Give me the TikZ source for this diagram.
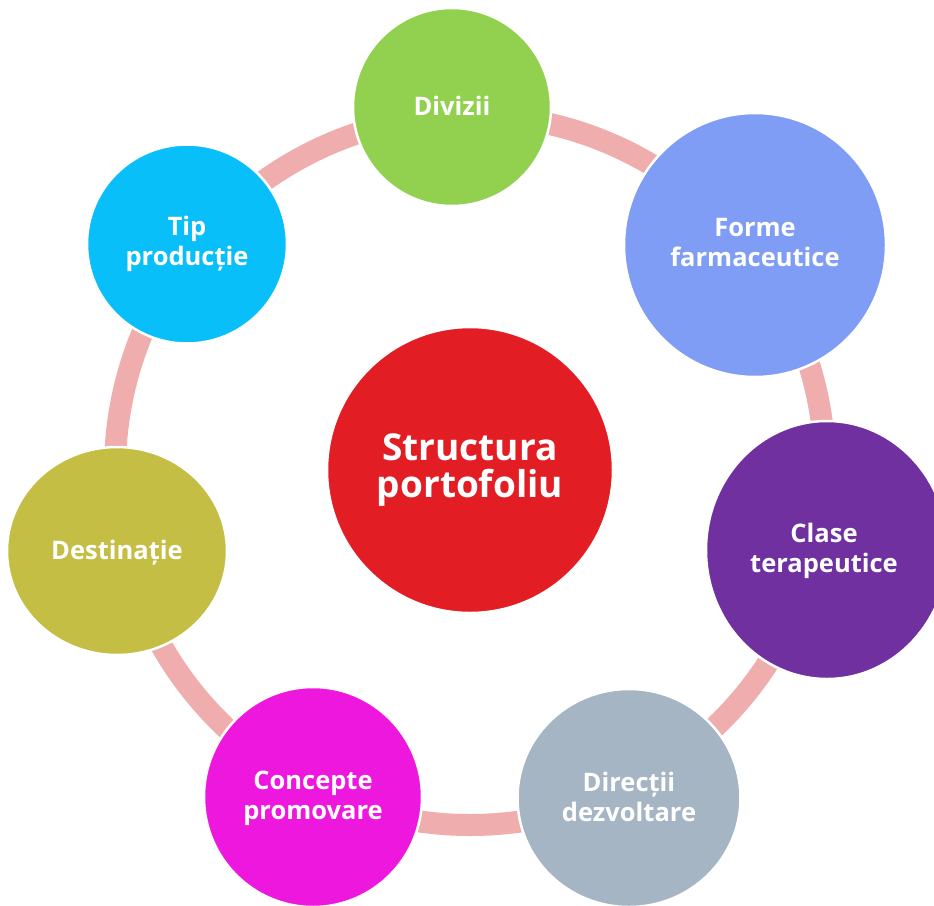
\documentclass[tikz,border=0pt]{standalone}
\usepackage{fontspec}
\setmainfont{Open Sans}
\usetikzlibrary{shapes.geometric}
\definecolor{cgreen}{HTML}{92D050}
\definecolor{cblue}{HTML}{7F9DF4}
\definecolor{cpurple}{HTML}{7030A0}
\definecolor{cgray}{HTML}{A5B5C3}
\definecolor{cmag}{HTML}{EE17DE}
\definecolor{colive}{HTML}{C4BF44}
\definecolor{ccyan}{HTML}{09BFF9}
\definecolor{cred}{HTML}{E31D24}
\definecolor{cring}{HTML}{EFADAD}
\tikzset{
  bubble/.style={ellipse, draw=white, line width=2.5pt, inner sep=0pt},
  lbl/.style={text=white, align=center, inner sep=0pt,
    font=\fontsize{25.5}{30}\selectfont\bfseries},
  biglbl/.style={text=white, align=center, inner sep=0pt,
    font=\fontsize{37}{37}\selectfont\bfseries},
  ring/.style={draw=cring, line width=22pt}
}
\begin{document}
\begin{tikzpicture}[x=1pt,y=-1pt]
\useasboundingbox (0,0) rectangle (934,905);
\clip (0,0) rectangle (934,905);
\fill[white] (0,0) rectangle (934,905);
\coordinate (c) at (470,470);
\draw[ring] (c) circle[radius=355];
% bubbles
\node[bubble, fill=cred, minimum width=286pt, minimum height=286pt] (center) at (470,470) {};
\node[bubble, fill=cgreen, minimum width=198pt, minimum height=198pt] (divizii) at (452,107) {};
\node[bubble, fill=cblue, minimum width=262pt, minimum height=264pt] (forme) at (755,245) {};
\node[bubble, fill=cpurple, minimum width=242pt, minimum height=258pt] (clase) at (827,550) {};
\node[bubble, fill=cgray, minimum width=223pt, minimum height=218pt] (directii) at (629,798) {};
\node[bubble, fill=cmag, minimum width=218pt, minimum height=220pt] (concepte) at (313,797) {};
\node[bubble, fill=colive, minimum width=220pt, minimum height=208pt] (destinatie) at (117,551) {};
\node[bubble, fill=ccyan, minimum width=200pt, minimum height=199pt] (tip) at (187,244) {};
% labels
\node[biglbl] (tcenter) at (470,470) {Structura\\portofoliu};
\node[lbl] (tdivizii) at (452,106) {Divizii};
\node[lbl] (tforme) at (755,243) {Forme\\farmaceutice};
\node[lbl] (tclase) at (824,551) {Clase\\terapeutice};
\node[lbl] (tdirectii) at (629,797) {Direcții\\dezvoltare};
\node[lbl] (tconcepte) at (313,798) {Concepte\\promovare};
\node[lbl] (tdestinatie) at (117,553) {Destinație};
\node[lbl] (ttip) at (187,244) {Tip\\producție};
\end{tikzpicture}
\end{document}
